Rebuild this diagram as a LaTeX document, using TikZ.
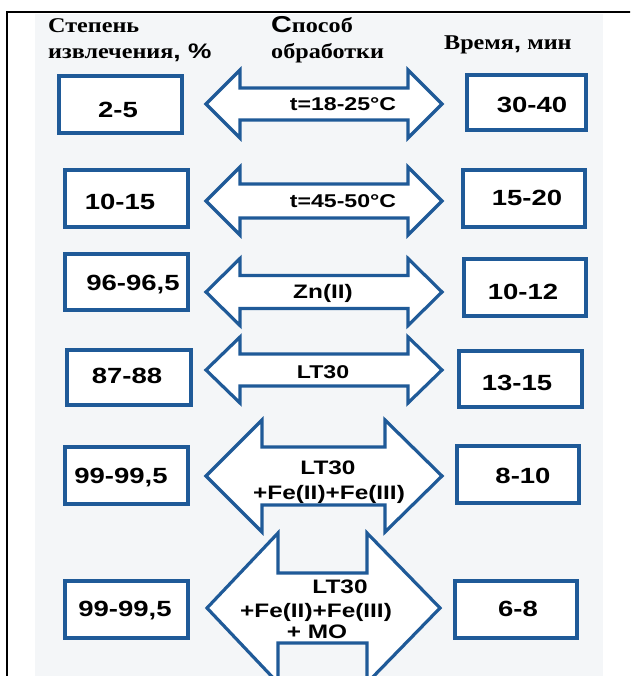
\documentclass[tikz,border=0pt]{standalone}
\usepackage{fontspec}
\setmainfont{Liberation Serif}
\newfontfamily\sfst[FakeStretch=1.25]{Liberation Sans}
\newfontfamily\rmst[FakeStretch=1.15]{Liberation Serif}
\definecolor{bblue}{RGB}{31,90,152}
\definecolor{bgc}{RGB}{244,246,248}
\newcommand\bx[8]{%
  \node[box, minimum width={#4-#2-3.6pt}, minimum height={#5-#3-3.6pt}] (#1) at ({(#2+#4)/2},{(#3+#5)/2}) {};
  \node[num] (#1t) at (#7,#8) {#6};}
\newcommand\darr[8]{%
  \draw[arr] (#2,#6) -- (#3,{#6-#7}) -- (#3,{#6-#8}) -- (#4,{#6-#8}) -- (#4,{#6-#7}) -- (#5,#6)
     -- (#4,{#6+#7}) -- (#4,{#6+#8}) -- (#3,{#6+#8}) -- (#3,{#6+#7}) -- cycle;
  \coordinate (#1) at ({(#2+#5)/2},#6);}
\begin{document}
\begin{tikzpicture}[x=1pt,y=-1pt,
  box/.style={draw=bblue, line width=3.6pt, fill=white, inner sep=0pt, outer sep=0pt},
  arr/.style={draw=bblue, line width=3.2pt, fill=white, line join=miter},
  num/.style={font=\sfst\bfseries\fontsize{22}{22}\selectfont, inner sep=0pt, text depth=0pt},
  lab/.style={font=\sfst\bfseries\fontsize{18.5}{18.5}\selectfont, inner sep=0pt, text depth=0pt},
  labb/.style={font=\sfst\bfseries\fontsize{19.5}{19.5}\selectfont, inner sep=0pt, text depth=0pt},
  hdr/.style={font=\rmst\bfseries\fontsize{21}{21}\selectfont, inner sep=0pt, anchor=base west}]
\useasboundingbox (0,0) rectangle (630,676);
\clip (0,0) rectangle (630,676);
\fill[white] (0,0) rectangle (630,676);
\fill[bgc] (35,14) rectangle (603,676);
% frame
\draw[black, line width=2pt] (7,677) -- (7,12) -- (631,12);
% headers
\node[hdr] (h1a) at (48,33) {Степень};
\node[hdr] (h1b) at (48,59) {извлечения{\sfst\bfseries, \%}};
\node[hdr] (h2a) at (271,33) {{\sfst\bfseries\fontsize{23}{23}\selectfont С}пособ};
\node[hdr] (h2b) at (271,59) {обработки};
\node[hdr] (h3) at (444,50) {Время{\sfst\bfseries,} мин};
% arrows
\darr{a1}{206}{240}{408}{442}{104}{34}{16}
\darr{a2}{206}{240}{408}{442}{201}{34}{17}
\darr{a3}{206}{240}{408}{442}{292}{33.5}{16.5}
\darr{a4}{206}{240}{408}{442}{370}{33}{16}
\darr{a5}{206}{262}{385}{442}{476}{56}{29}
\darr{a6}{207}{278}{367}{440}{608}{75}{35}
\node[lab] (t1) at (343,104) {t=18-25\textdegree C};
\node[lab] (t2) at (343,201) {t=45-50\textdegree C};
\node[labb] (t3) at (323,291) {Zn(II)};
\node[lab] (t4) at (323,372) {LT30};
\node[labb] (t5a) at (328,468) {LT30};
\node[labb] (t5b) at (329,492) {+Fe(II)+Fe(III)};
\node[labb] (t6a) at (340,587) {LT30};
\node[labb] (t6b) at (316,610) {+Fe(II)+Fe(III)};
\node[labb] (t6c) at (317,632) {+ MO};
% left boxes
\bx{l1}{57}{74}{184}{135}{2-5}{118}{110}
\bx{l2}{63}{168}{190}{229}{10-15}{120}{202}
\bx{l3}{63}{252}{190}{312}{96-96,5}{133}{283}
\bx{l4}{65}{348}{193}{407}{87-88}{127}{376}
\bx{l5}{63}{445}{190}{506}{99-99,5}{121}{476}
\bx{l6}{63}{579}{190}{640}{99-99,5}{125}{609}
% right boxes
\bx{r1}{465}{73}{588}{132}{30-40}{532}{105}
\bx{r2}{461}{168}{587}{229}{15-20}{527}{198}
\bx{r3}{462}{257}{588}{318}{10-12}{523}{292}
\bx{r4}{457}{349}{584}{409}{13-15}{517}{383}
\bx{r5}{455}{444}{581}{505}{8-10}{523}{476}
\bx{r6}{453}{579}{579}{640}{6-8}{518}{609}
\end{tikzpicture}
\end{document}
